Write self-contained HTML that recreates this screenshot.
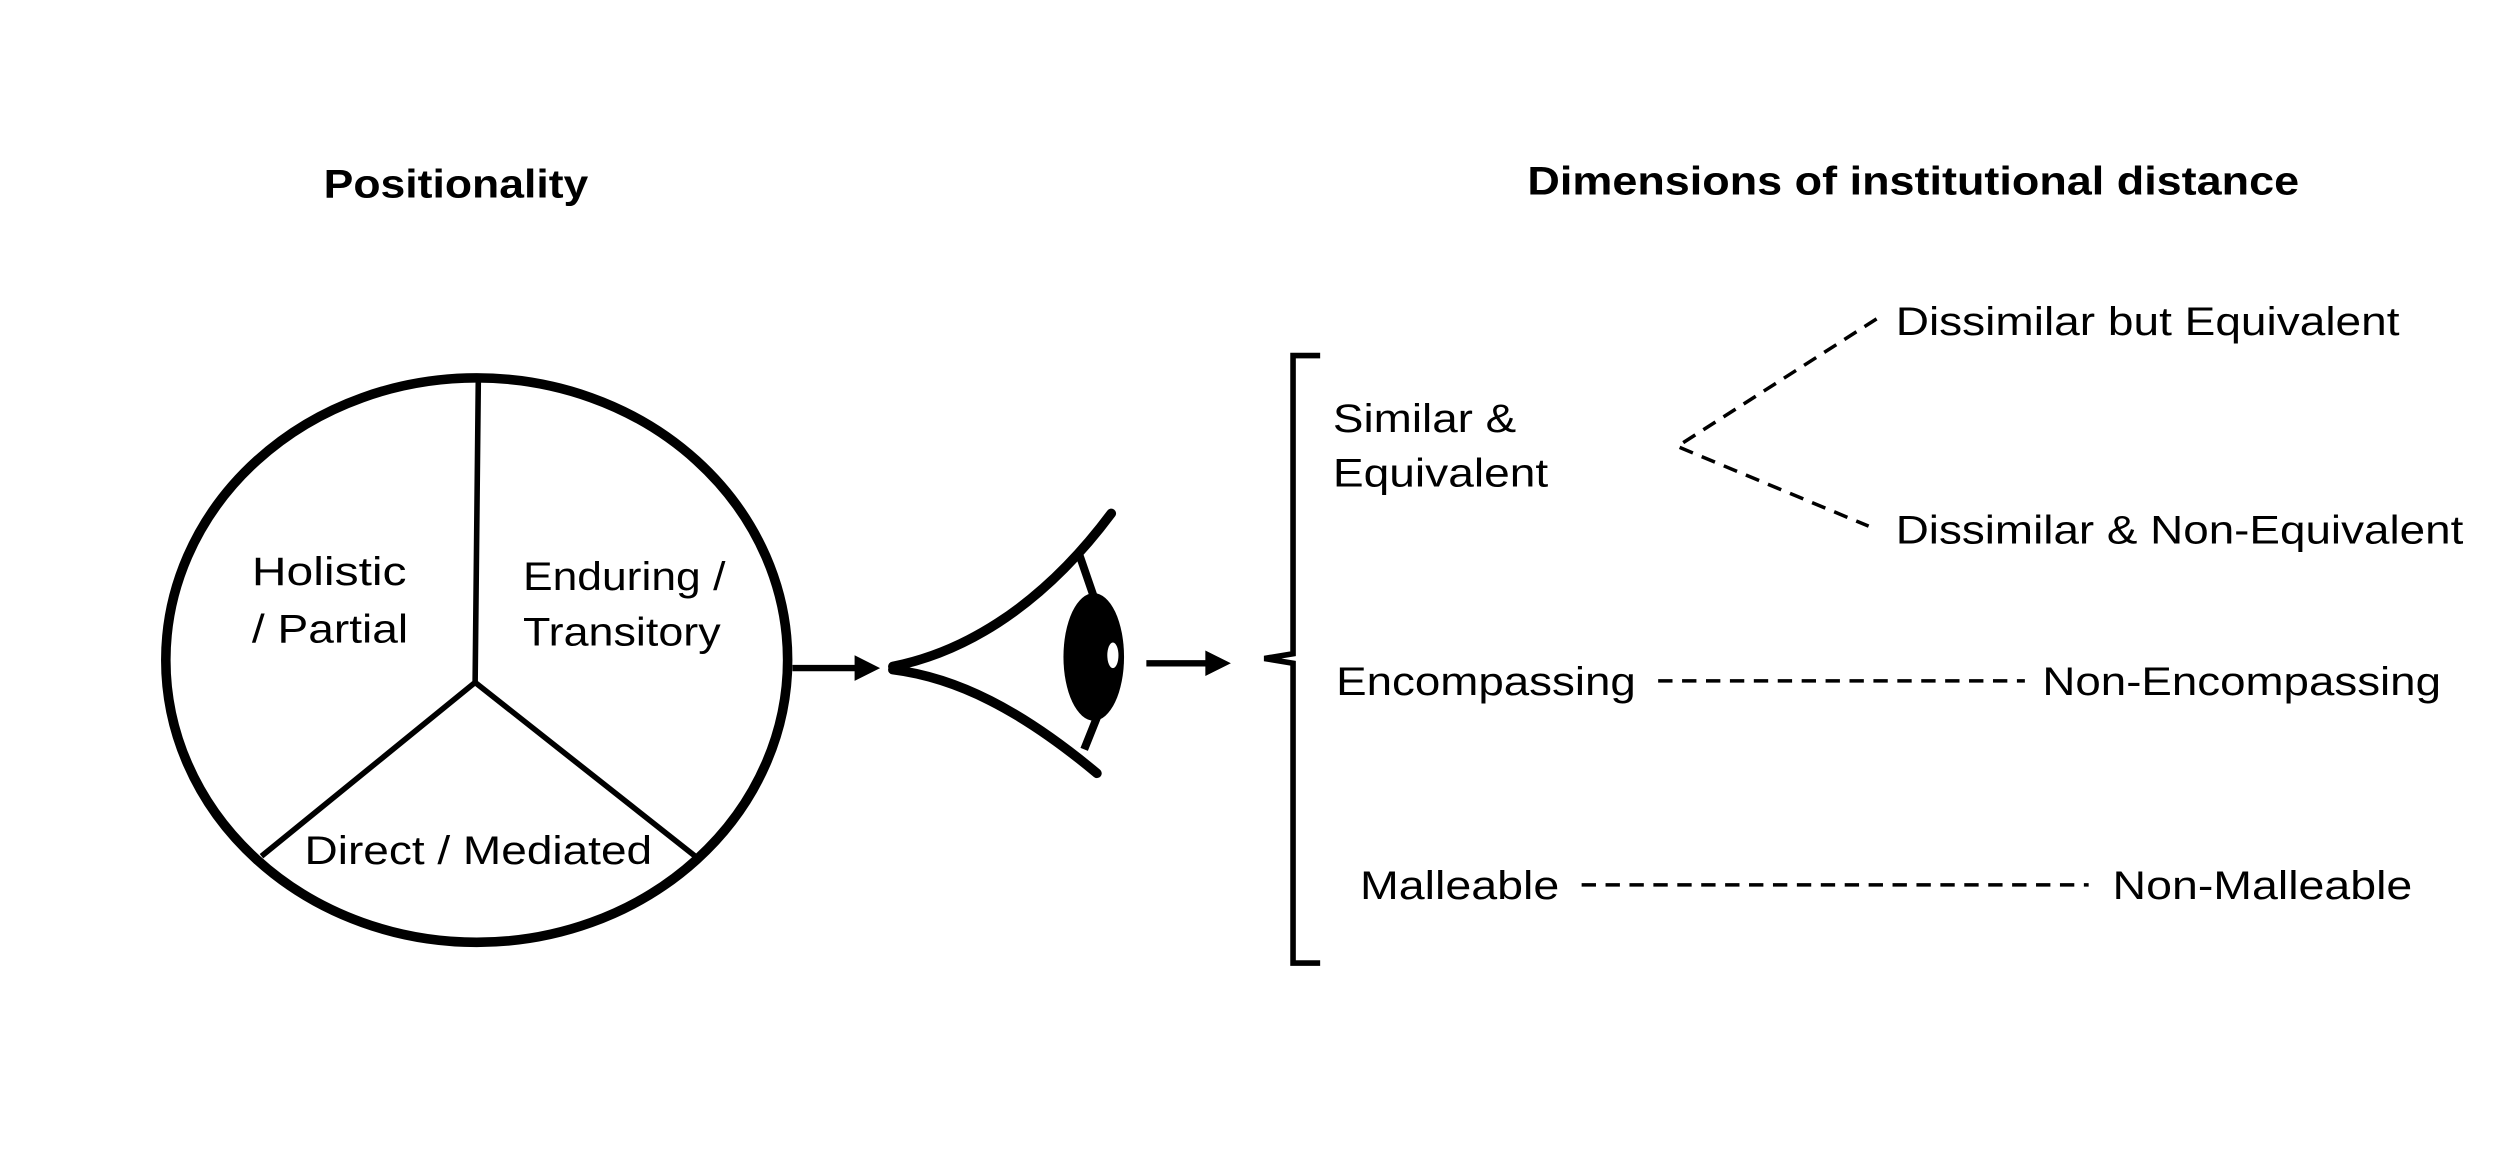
<!DOCTYPE html>
<html><head><meta charset="utf-8"><style>
html,body{margin:0;padding:0;background:#fff;}
svg{display:block;}
text{font-family:"Liberation Sans",sans-serif;fill:#000;}
</style></head><body>
<svg width="2500" height="1155" viewBox="0 0 1568 724.4" preserveAspectRatio="none" xmlns="http://www.w3.org/2000/svg">
<text x="286" y="124" font-size="25" font-weight="bold" text-anchor="middle" textLength="166" lengthAdjust="spacingAndGlyphs">Positionality</text>
<text x="1200" y="122" font-size="25" font-weight="bold" text-anchor="middle" textLength="484" lengthAdjust="spacingAndGlyphs">Dimensions of institutional distance</text>
<ellipse cx="299" cy="414" rx="195" ry="177" fill="none" stroke="#000" stroke-width="6"/>
<polyline points="300,238 298,428 164,537" fill="none" stroke="#000" stroke-width="3.5"/>
<line x1="298" y1="428" x2="436" y2="537" stroke="#000" stroke-width="3.5"/>
<g font-size="25">
<text x="158" y="367" textLength="97" lengthAdjust="spacingAndGlyphs">Holistic</text>
<text x="158" y="403" textLength="98" lengthAdjust="spacingAndGlyphs">/ Partial</text>
<text x="328" y="370" textLength="127" lengthAdjust="spacingAndGlyphs">Enduring /</text>
<text x="328" y="405" textLength="124" lengthAdjust="spacingAndGlyphs">Transitory</text>
<text x="191" y="542" textLength="218" lengthAdjust="spacingAndGlyphs">Direct / Mediated</text>
</g>
<line x1="497" y1="419" x2="538" y2="419" stroke="#000" stroke-width="4"/>
<polygon points="536,411 552,419 536,427" fill="#000"/>
<path d="M697,322 C650,385 600,410 560,418" fill="none" stroke="#000" stroke-width="6" stroke-linecap="round"/>
<path d="M560,420 C600,425 640,445 688,485" fill="none" stroke="#000" stroke-width="6" stroke-linecap="round"/>
<line x1="677" y1="348" x2="688" y2="380" stroke="#000" stroke-width="5"/>
<line x1="680" y1="470" x2="690" y2="445" stroke="#000" stroke-width="5"/>
<ellipse cx="686" cy="412" rx="19" ry="40" fill="#000"/>
<ellipse cx="698" cy="411" rx="3.5" ry="8" fill="#fff"/>
<line x1="719" y1="416" x2="758" y2="416" stroke="#000" stroke-width="4"/>
<polygon points="756,408 772,416 756,424" fill="#000"/>
<path d="M828,223 L811,223 L811,410 L793,413 L811,416 L811,604 L828,604" fill="none" stroke="#000" stroke-width="3.5"/>
<g font-size="25">
<text x="836" y="271" textLength="115" lengthAdjust="spacingAndGlyphs">Similar &amp;</text>
<text x="836" y="305" textLength="135" lengthAdjust="spacingAndGlyphs">Equivalent</text>
<text x="1189" y="210" textLength="316" lengthAdjust="spacingAndGlyphs">Dissimilar but Equivalent</text>
<text x="1189" y="341" textLength="356" lengthAdjust="spacingAndGlyphs">Dissimilar &amp; Non-Equivalent</text>
<text x="838" y="436" textLength="188" lengthAdjust="spacingAndGlyphs">Encompassing</text>
<text x="1281" y="436" textLength="250" lengthAdjust="spacingAndGlyphs">Non-Encompassing</text>
<text x="853" y="564" textLength="125" lengthAdjust="spacingAndGlyphs">Malleable</text>
<text x="1325" y="564" textLength="188" lengthAdjust="spacingAndGlyphs">Non-Malleable</text>
</g>
<g stroke="#000" stroke-width="2.2" stroke-dasharray="9,6" fill="none">
<polyline points="1177,200 1052,280 1172,330"/>
<line x1="1040" y1="427" x2="1270" y2="427"/>
<line x1="992" y1="555" x2="1310" y2="555"/>
</g>
</svg>
</body></html>
